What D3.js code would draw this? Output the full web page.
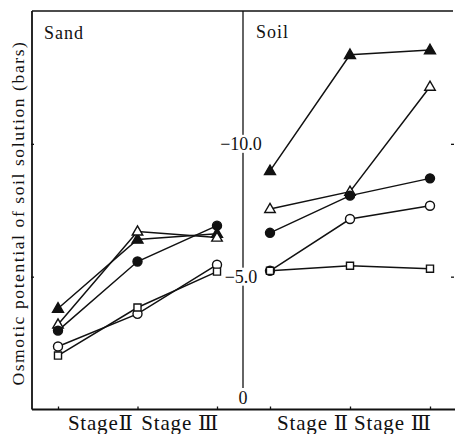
<!DOCTYPE html>
<html>
<head>
<meta charset="utf-8">
<script src="https://cdn.jsdelivr.net/npm/d3@7"></script>
<style>
html,body{margin:0;padding:0;background:#fff;}
svg{display:block;}
text{font-family:"Liberation Serif","Times New Roman","DejaVu Serif",serif;fill:#111;}
</style>
</head>
<body>
<svg id="chart" width="455" height="434"></svg>
<script>
// ---- data ----
const stages = [1, 2, 3];
const sandStageLabels = ["StageⅡ", "Stage Ⅲ"];
const soilStageLabels = ["Stage Ⅱ", "Stage Ⅲ"];
const yTickValues = [0, 5, 10];
const yTickLabels = ["0", "−5.0", "−10.0"];
const seriesNames = ["filledTriangle", "openTriangle", "filledCircle", "openCircle", "openSquare"];
const sandFilledTriangle = [3.8, 6.4, 6.62];
const sandOpenTriangle   = [3.2, 6.7, 6.47];
const sandFilledCircle   = [2.97, 5.57, 6.92];
const sandOpenCircle     = [2.37, 3.6, 5.45];
const sandOpenSquare     = [2.03, 3.84, 5.19];
const soilFilledTriangle = [8.98, 13.35, 13.53];
const soilOpenTriangle   = [7.55, 8.2, 12.15];
const soilFilledCircle   = [6.65, 8.05, 8.7];
const soilOpenCircle     = [5.22, 7.17, 7.67];
const soilOpenSquare     = [5.22, 5.41, 5.3];

const svg = d3.select("#chart");
const y = d3.scaleLinear().domain([0, 15]).range([409.5, 11]);
const xSand = d3.scaleLinear().domain([1, 3]).range([58, 217]);
const xSoil = d3.scaleLinear().domain([1, 3]).range([270, 430]);

const leftX = 32, midX = 243, rightX = 453, topY = 11, bottomY = 409.5;

// frame
svg.append("line").attr("x1", leftX).attr("x2", rightX).attr("y1", topY).attr("y2", topY)
  .attr("stroke", "#111").attr("stroke-width", 1.4);
svg.append("line").attr("x1", leftX).attr("x2", leftX).attr("y1", topY).attr("y2", bottomY)
  .attr("stroke", "#111").attr("stroke-width", 1.8);
svg.append("line").attr("x1", midX).attr("x2", midX).attr("y1", topY).attr("y2", 388)
  .attr("stroke", "#111").attr("stroke-width", 1.3);
svg.append("line").attr("x1", leftX).attr("x2", 455).attr("y1", bottomY).attr("y2", bottomY)
  .attr("stroke", "#111").attr("stroke-width", 1.8);

// left axis ticks (sand)
const leftAxis = d3.axisRight(y).tickValues([5, 10]).tickSize(3).tickFormat("");
svg.append("g").attr("transform", `translate(${leftX - 1},0)`).call(leftAxis)
  .call(g => g.select(".domain").remove())
  .selectAll("line").attr("stroke", "#111").attr("stroke-width", 1.3);

// right edge ticks
const rightAxis = d3.axisLeft(y).tickValues([5, 10]).tickSize(3).tickFormat("");
svg.append("g").attr("transform", `translate(${rightX + 1},0)`).call(rightAxis)
  .call(g => g.select(".domain").remove())
  .selectAll("line").attr("stroke", "#111").attr("stroke-width", 1.3);

// middle axis labels with white backgrounds
const midLabels = svg.append("g");
yTickValues.forEach((v, i) => {
  const t = midLabels.append("text")
    .attr("x", midX + (i === 0 ? 0 : -2))
    .attr("y", y(v) + (i === 0 ? -6 : 6))
    .attr("text-anchor", "middle")
    .attr("font-size", 18)
    .text(yTickLabels[i]);
  const bb = t.node().getBBox();
  midLabels.insert("rect", "text")
    .attr("x", bb.x + 6).attr("y", bb.y + 1)
    .attr("width", Math.max(bb.width - 6, 2)).attr("height", bb.height - 2)
    .attr("fill", "#fff");
});

// x-axis ticks
function xTicks(xs) {
  const ax = d3.axisBottom(xs).tickValues(stages).tickSize(-3).tickFormat("");
  svg.append("g").attr("transform", `translate(0,${bottomY})`).call(ax)
    .call(g => g.select(".domain").remove())
    .selectAll("line").attr("stroke", "#111").attr("stroke-width", 1.3);
}
xTicks(xSand);
xTicks(xSoil);

// stage labels at midpoints between ticks
function stageLabels(xs, labels) {
  labels.forEach((lab, i) => {
    svg.append("text")
      .attr("x", (xs(stages[i]) + xs(stages[i + 1])) / 2 + 3)
      .attr("y", 430)
      .attr("text-anchor", "middle")
      .attr("font-size", 21)
      .attr("letter-spacing", 0.8)
      .text(lab);
  });
}
stageLabels(xSand, sandStageLabels);
stageLabels(xSoil, soilStageLabels);

// panel titles
svg.append("text").attr("x", 44).attr("y", 39).attr("font-size", 18).attr("letter-spacing", 1).text("Sand");
svg.append("text").attr("x", 256).attr("y", 38).attr("font-size", 18).attr("letter-spacing", 1).text("Soil");

// y-axis title
svg.append("text")
  .attr("transform", "translate(24,213) rotate(-90)")
  .attr("text-anchor", "middle")
  .attr("font-size", 17.5)
  .attr("letter-spacing", 1.6)
  .text("Osmotic potential of soil solution (bars)");

// series
const sandSeries = [sandFilledTriangle, sandOpenTriangle, sandFilledCircle, sandOpenCircle, sandOpenSquare];
const soilSeries = [soilFilledTriangle, soilOpenTriangle, soilFilledCircle, soilOpenCircle, soilOpenSquare];

const symbolDefs = {
  filledTriangle: { type: d3.symbolTriangle, size: 52, fill: "#111" },
  openTriangle:   { type: d3.symbolTriangle, size: 48, fill: "#fff" },
  filledCircle:   { type: d3.symbolCircle,   size: 64, fill: "#111" },
  openCircle:     { type: d3.symbolCircle,   size: 64, fill: "#fff" },
  openSquare:     { type: d3.symbolSquare,   size: 50, fill: "#fff" }
};

function drawPanel(xs, seriesList) {
  const line = d3.line().x((d, i) => xs(stages[i])).y(d => y(d));
  seriesList.forEach(vals => {
    svg.append("path").attr("d", line(vals)).attr("fill", "none")
      .attr("stroke", "#111").attr("stroke-width", 1.5);
  });
  seriesList.forEach((vals, si) => {
    const def = symbolDefs[seriesNames[si]];
    svg.append("g").selectAll("path").data(vals).join("path")
      .attr("transform", (d, i) => `translate(${xs(stages[i])},${y(d) + (def.type === d3.symbolTriangle ? 0.5 : 0)})`)
      .attr("d", d3.symbol().type(def.type).size(def.size))
      .attr("fill", def.fill)
      .attr("stroke", "#111").attr("stroke-width", 1.4);
  });
}
drawPanel(xSand, sandSeries);
drawPanel(xSoil, soilSeries);
</script>
</body>
</html>
